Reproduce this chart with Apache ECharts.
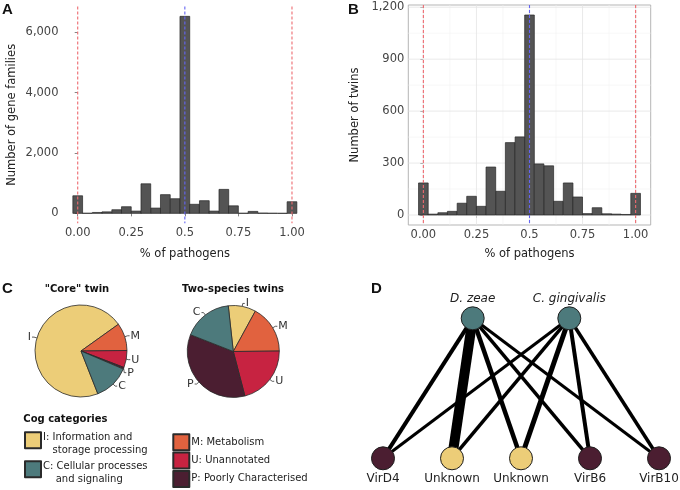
<!DOCTYPE html>
<html><head><meta charset="utf-8">
<script src="https://cdn.jsdelivr.net/npm/echarts@6/dist/echarts.min.js"></script>
<style>html,body{margin:0;padding:0;background:#fff}#c{width:680px;height:490px}</style>
</head><body><div id="c"></div>
<script>
// ---- data ----
const binCenters = [0.000,0.045,0.091,0.136,0.182,0.227,0.273,0.318,0.364,0.409,0.455,0.500,0.545,0.591,0.636,0.682,0.727,0.773,0.818,0.864,0.909,0.955,1.000];
const BIN_WIDTH = 0.04545;
const familyCounts = [583,5,30,50,120,220,75,980,175,620,485,6530,300,420,75,795,250,5,65,10,5,2,385];
const twinCounts = [185,5,13,21,68,108,50,277,137,418,451,1155,295,284,79,185,104,8,42,7,5,3,125];
const xTickValues = [0,0.25,0.5,0.75,1];
const xTickLabels = ['0.00','0.25','0.5','0.75','1.00'];
const xMinorValues = [0.125,0.375,0.625,0.875];
const familyTicks = [0,2000,4000,6000];
const twinTicks = [0,300,600,900,1200];
const twinMinorTicks = [150,450,750,1050];
const redRefLines = [0,1];
const blueRefLines = [0.5];

const cogCategories = ['I','M','U','P','C'];
const cogColors = {I:'#ECCD78', M:'#E1623F', U:'#C72341', P:'#4B1E31', C:'#4D7A7C'};
const cogLegendText = {
  I:['I: Information and','\u00a0\u00a0\u00a0storage processing'],
  C:['C: Cellular processes','\u00a0\u00a0\u00a0\u00a0and signaling'],
  M:['M: Metabolism'],
  U:['U: Unannotated'],
  P:['P: Poorly Characterised']
};
const coreShares = [71.1, 9.7, 6.0, 0.6, 12.6];
const twoSpeciesShares = [9.7, 16.9, 21.1, 35.0, 17.3];

const speciesNames = ['D. zeae','C. gingivalis'];
const speciesX = [1.3, 2.7];
const geneNames = ['VirD4','Unknown','Unknown','VirB6','VirB10'];
const geneX = [0,1,2,3,4];
const geneCog = ['P','I','I','P','P'];
const linkWeights = [
  [4, 10, 4.5, 3.5, 3],   // D. zeae -> genes
  [3, 3.5, 5, 4, 3.5]     // C. gingivalis -> genes
];

// ---- helpers ----
const RED = '#EE6A70', BLUE = '#6464F2', GRID_MAJOR = '#e3e3e3', GRID_MINOR = '#f1f1f1';
function fmtThousands(v){ return String(v).replace(/\B(?=(\d{3})+(?!\d))/g, ','); }
function barRenderer(params, api){
  const c = api.value(0), v = api.value(1);
  const tl = api.coord([c - BIN_WIDTH/2, v]);
  const br = api.coord([c + BIN_WIDTH/2, 0]);
  return {type:'rect', shape:{x:tl[0], y:tl[1], width:br[0]-tl[0], height:br[1]-tl[1]},
          style:{fill:'#545454', stroke:'#262626', lineWidth:0.7}};
}
// full-height / full-width rule lines placed through the axis scale
function ruleSeries(axisIdx, dir, values, color, dash, width, z){
  return {type:'custom', xAxisIndex:axisIdx, yAxisIndex:axisIdx, z, silent:true, clip:false,
    encode: dir === 'v' ? {x:0} : {y:0},
    data: values.map(v => [v]),
    renderItem(params, api){
      const cs = params.coordSys, v = api.value(0);
      let shape;
      if (dir === 'v') {
        const x = api.coord([v, 0])[0];
        shape = {x1:x, y1:cs.y, x2:x, y2:cs.y + cs.height};
      } else {
        const y = api.coord([0, v])[1];
        shape = {x1:cs.x, y1:y, x2:cs.x + cs.width, y2:y};
      }
      return {type:'line', shape, style:{stroke:color, lineWidth:width, lineDash:dash, fill:null}};
    }};
}

function xAxisCfg(gridIndex, extra){
  return Object.assign({
    type:'value', gridIndex, min:-0.071, max:1.071,
    axisLine:{show:false},
    axisTick:{show:true, length:3, customValues:xTickValues, lineStyle:{color:'#666', width:0.8}},
    axisLabel:{customValues:xTickValues, formatter:v => xTickLabels[xTickValues.indexOf(v)], fontSize:11.5, color:'#444', margin:4},
    splitLine:{show:false},
    name:'% of pathogens', nameLocation:'middle', nameTextStyle:{fontSize:11.5, color:'#222'}
  }, extra);
}
function yAxisCfg(gridIndex, ticks, min, max, name, gap){
  return {
    type:'value', gridIndex, min, max,
    axisLine:{show:false},
    axisTick:{show:true, length:3, customValues:ticks, lineStyle:{color:'#666', width:0.8}},
    axisLabel:{customValues:ticks, formatter:v => fmtThousands(v), fontSize:11.5, color:'#444', margin:4},
    splitLine:{show:false},
    name, nameLocation:'middle', nameGap:gap, nameTextStyle:{fontSize:11.5, color:'#222'}
  };
}

const geneNodes = geneNames.map((n,i) => ({
  name:'gene'+i, value:[geneX[i], 0], itemStyle:{color:cogColors[geneCog[i]]},
  label:{show:true, position:'bottom', distance:3, formatter:geneNames[i], fontSize:12, color:'#222'}
}));
const speciesNodes = speciesNames.map((n,i) => ({
  name:'sp'+i, value:[speciesX[i], 1], itemStyle:{color:cogColors.C},
  label:{show:true, position:'top', distance:1, formatter:n, fontSize:12, fontStyle:'italic', color:'#222'}
}));
const links = [];
linkWeights.forEach((row, s) => row.forEach((w, g) => links.push({source:'sp'+s, target:'gene'+g, lineStyle:{width:w}})));

function pieSeries(name, center, startAngle, shares){
  return {
    type:'pie', name, center, radius:46, startAngle, clockwise:true,
    avoidLabelOverlap:true, silent:true,
    data: cogCategories.map((c,i) => ({name:c, value:shares[i], itemStyle:{color:cogColors[c]}})),
    itemStyle:{borderColor:'#2a2a2a', borderWidth:0.8},
    label:{show:true, formatter:'{b}', fontSize:11, color:'#333', distanceToLabelLine:1},
    labelLine:{show:true, length:3, length2:2, lineStyle:{color:'#333', width:0.8}},
    emphasis:{disabled:true}
  };
}

function legendItem(cat, left, top){
  const lines = cogLegendText[cat];
  const twoLine = lines.length > 1;
  return {data:[cat], left, top, padding:0, orient:'vertical', itemWidth:16, itemHeight:16,
    selectedMode:false, icon:'rect',
    formatter: twoLine ? ('{s| }\n' + lines.map(l => '{a|' + l + '}').join('\n')) : lines[0],
    textStyle: twoLine ? {fontSize:10, color:'#222', padding:[0,0,0,-3],
                          rich:{s:{fontSize:4, lineHeight:8, color:'#222'}, a:{fontSize:10, lineHeight:13.4, color:'#222'}}}
                       : {fontSize:10, color:'#222', padding:[0,0,0,-3]}};
}

function txt(x, y, text, font, align){
  return {type:'text', x, y, style:{text, font, fill:'#111', textAlign:align||'left', align:align||'left', textVerticalAlign:'middle', verticalAlign:'middle'}};
}

const chart = echarts.init(document.getElementById('c'), null, {renderer:'canvas'});
chart.setOption({
  animation:false,
  textStyle:{fontFamily:'DejaVu Sans'},
  grid:[
    {left:62.5, top:6.5, width:244.7, height:216.7},
    {left:408.3, top:5, width:242.4, height:220, show:true, borderColor:'#b5b5b5', borderWidth:1, backgroundColor:'#fff'},
    {left:383, top:318.3, width:276, height:140}
  ],
  xAxis:[
    xAxisCfg(0, {nameGap:25}),
    xAxisCfg(1, {nameGap:23}),
    {type:'value', gridIndex:2, min:0, max:4, show:false}
  ],
  yAxis:[
    yAxisCfg(0, familyTicks, -326, 6856, 'Number of gene families', 44),
    yAxisCfg(1, twinTicks, -57.75, 1212.75, 'Number of twins', 47),
    {type:'value', gridIndex:2, min:0, max:1, show:false}
  ],
  legend:[
    legendItem('I', 24, 424.8),
    legendItem('C', 24, 453.8),
    legendItem('M', 172.3, 433.3),
    legendItem('U', 172.3, 451.6),
    legendItem('P', 172.3, 469.9)
  ],
  graphic:[
    txt(2, 10, 'A', 'bold 15px "Liberation Sans"'),
    txt(348, 10, 'B', 'bold 15px "Liberation Sans"'),
    txt(2, 289, 'C', 'bold 15px "Liberation Sans"'),
    txt(371, 289, 'D', 'bold 15px "Liberation Sans"'),
    txt(77, 289.5, '"Core" twin', 'bold 10px "DejaVu Sans"', 'center'),
    txt(233, 289.5, 'Two-species twins', 'bold 10px "DejaVu Sans"', 'center'),
    txt(23.3, 419, 'Cog categories', 'bold 10px "DejaVu Sans"')
  ],
  series:[
    // panel B grid lines (beneath the bars)
    ruleSeries(1, 'h', twinMinorTicks, GRID_MINOR, null, 0.6, 1),
    ruleSeries(1, 'v', xMinorValues, GRID_MINOR, null, 0.6, 1),
    ruleSeries(1, 'h', twinTicks, GRID_MAJOR, null, 0.8, 1),
    ruleSeries(1, 'v', xTickValues, GRID_MAJOR, null, 0.8, 1),
    {type:'custom', xAxisIndex:0, yAxisIndex:0, z:3, silent:true, renderItem:barRenderer,
     encode:{x:0, y:1}, data:binCenters.map((c,i) => [c, familyCounts[i]])},
    {type:'custom', xAxisIndex:1, yAxisIndex:1, z:3, silent:true, renderItem:barRenderer,
     encode:{x:0, y:1}, data:binCenters.map((c,i) => [c, twinCounts[i]])},
    // dashed reference lines
    ruleSeries(0, 'v', redRefLines, RED, [3,2], 1.1, 8),
    ruleSeries(0, 'v', blueRefLines, BLUE, [3,2], 1.1, 8),
    ruleSeries(1, 'v', redRefLines, RED, [3,2], 1.1, 8),
    ruleSeries(1, 'v', blueRefLines, BLUE, [3,2], 1.1, 8),
    pieSeries('core', [81, 351], 291.5, coreShares),
    pieSeries('two', [233.3, 351.5], 96.3, twoSpeciesShares),
    {type:'graph', coordinateSystem:'cartesian2d', xAxisIndex:2, yAxisIndex:2, silent:true,
     symbolSize:23, data:speciesNodes.concat(geneNodes), links,
     itemStyle:{borderColor:'#1e1e1e', borderWidth:1},
     lineStyle:{color:'#000', opacity:1, curveness:0},
     emphasis:{disabled:true}}
  ]
});
</script></body></html>
